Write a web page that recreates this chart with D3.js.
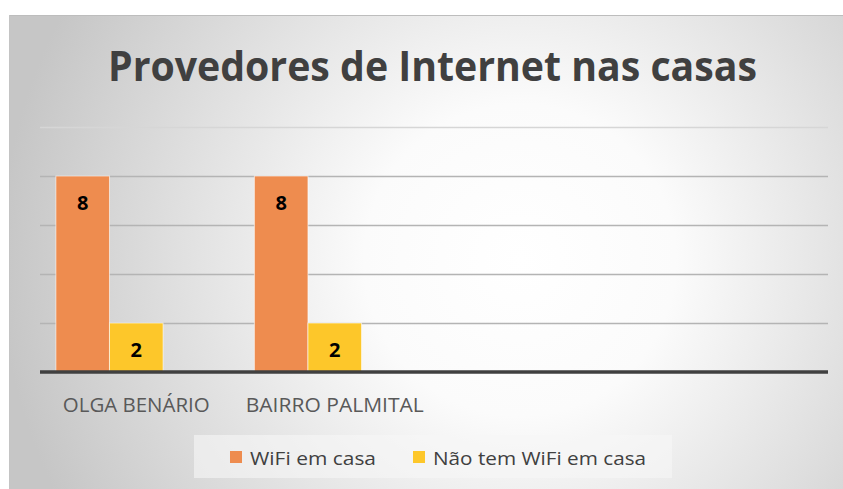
<!DOCTYPE html>
<html>
<head>
<meta charset="utf-8">
<script src="https://cdn.jsdelivr.net/npm/d3@7"></script>
<style>
  html, body { margin: 0; padding: 0; background: #fff; }
  text { font-family: "Open Sans", "DejaVu Sans", sans-serif; }
</style>
</head>
<body>
<div id="chart"></div>
<script>
// chart values
var categories = ['OLGA BENÁRIO', 'BAIRRO PALMITAL', '', ''];
var seriesNames = ['WiFi em casa', 'Não tem WiFi em casa', ''];
var wifiValues = [8, 8, null, null];
var semWifiValues = [2, 2, null, null];
var yTicks = [0, 2, 4, 6, 8, 10];
var chartTitle = 'Provedores de Internet nas casas';

var colors = ['#ee8c4f', '#fdc72a', 'none'];

var width = 843, height = 489;
var plotLeft = 40, plotRight = 828, plotTop = 127, plotBottom = 372;

var svg = d3.select('#chart').append('svg')
    .attr('width', width)
    .attr('height', height);

// background gradient
var defs = svg.append('defs');
var grad = defs.append('radialGradient')
    .attr('id', 'bg')
    .attr('gradientUnits', 'userSpaceOnUse')
    .attr('cx', 520).attr('cy', 260).attr('r', 520);
grad.append('stop').attr('offset', '0%').attr('stop-color', '#ffffff');
grad.append('stop').attr('offset', '30%').attr('stop-color', '#fbfbfb');
grad.append('stop').attr('offset', '100%').attr('stop-color', '#c6c6c6');

svg.append('rect')
    .attr('x', 9).attr('y', 15)
    .attr('width', width - 9).attr('height', height - 15)
    .attr('fill', 'url(#bg)');
svg.append('line')
    .attr('x1', 9).attr('x2', width).attr('y1', 15.5).attr('y2', 15.5)
    .attr('stroke', '#bdbdbd').attr('stroke-width', 1);
svg.append('line')
    .attr('x1', 9.5).attr('x2', 9.5).attr('y1', 15).attr('y2', height)
    .attr('stroke', '#c4c4c4').attr('stroke-width', 1);

// title
svg.append('text')
    .attr('x', 108).attr('y', 81)
    .attr('textLength', 649)
    .attr('lengthAdjust', 'spacingAndGlyphs')
    .attr('font-size', 42)
    .attr('font-weight', 'bold')
    .attr('fill', '#404040')
    .text(chartTitle);

var x0 = d3.scaleBand()
    .domain(d3.range(categories.length))
    .range([plotLeft, plotRight])
    .paddingInner(0.19)
    .paddingOuter(0.08);

var x1 = d3.scaleBand()
    .domain(d3.range(seriesNames.length))
    .range([0, x0.bandwidth()]);

var y = d3.scaleLinear()
    .domain([0, 10])
    .range([plotBottom, plotTop]);

// gridlines
var grid = svg.append('g')
    .attr('transform', 'translate(' + plotLeft + ',0)')
    .call(d3.axisLeft(y).tickValues(yTicks.slice(1)).tickSize(-(plotRight - plotLeft)).tickFormat(''));
grid.select('.domain').remove();
grid.selectAll('.tick line')
    .attr('stroke', function(d) { return d == 10 ? '#d6d6d6' : '#b4b4b4'; })
    .attr('stroke-width', 1.6);

// bars
var rows = categories.map(function(c, i) {
  return [wifiValues[i], semWifiValues[i], null];
});

function cells(d) {
  return d.map(function(v, s) { return {v: v, s: s}; })
          .filter(function(o) { return o.v != null; });
}

var groups = svg.append('g').selectAll('g')
    .data(rows)
    .enter()
    .append('g')
    .attr('transform', function(d, i) { return 'translate(' + x0(i) + ',0)'; });

groups.selectAll('rect')
    .data(cells)
    .enter()
    .append('rect')
    .attr('x', function(d) { return x1(d.s); })
    .attr('y', function(d) { return y(d.v); })
    .attr('width', x1.bandwidth())
    .attr('height', function(d) { return y(0) - y(d.v); })
    .attr('fill', function(d) { return colors[d.s]; })
    .attr('stroke', 'rgba(255,255,255,0.6)')
    .attr('stroke-width', 1);

groups.selectAll('text')
    .data(cells)
    .enter()
    .append('text')
    .attr('x', function(d) { return x1(d.s) + x1.bandwidth() / 2; })
    .attr('y', function(d) { return y(d.v) + 34; })
    .attr('text-anchor', 'middle')
    .attr('font-size', 20)
    .attr('font-weight', 'bold')
    .attr('fill', '#000')
    .text(function(d) { return d.v; });

// axis line
svg.append('line')
    .attr('x1', plotLeft).attr('x2', plotRight)
    .attr('y1', y(0)).attr('y2', y(0))
    .attr('stroke', '#404040')
    .attr('stroke-width', 3.5);

// category labels
var labelWidths = [147, 178];
svg.append('g').selectAll('text')
    .data(categories.filter(function(c) { return c !== ''; }))
    .enter()
    .append('text')
    .attr('x', function(d, i) { return x0(i) + x0.bandwidth() / 2; })
    .attr('y', 412)
    .attr('text-anchor', 'middle')
    .attr('textLength', function(d, i) { return labelWidths[i]; })
    .attr('lengthAdjust', 'spacingAndGlyphs')
    .attr('font-size', 20)
    .attr('fill', '#595959')
    .text(function(d) { return d; });

// legend
var legend = svg.append('g');
legend.append('rect')
    .attr('x', 194).attr('y', 435)
    .attr('width', 478).attr('height', 43)
    .attr('fill', '#f6f6f6')
    .attr('opacity', 0.6);

var legendItems = [
  {name: seriesNames[0], color: colors[0], x: 230, w: 126},
  {name: seriesNames[1], color: colors[1], x: 413, w: 213}
];
legendItems.forEach(function(it) {
  legend.append('rect')
      .attr('x', it.x).attr('y', 451)
      .attr('width', 12).attr('height', 12)
      .attr('fill', it.color);
  legend.append('text')
      .attr('x', it.x + 20).attr('y', 465)
      .attr('textLength', it.w)
      .attr('lengthAdjust', 'spacingAndGlyphs')
      .attr('font-size', 18)
      .attr('fill', '#404040')
      .text(it.name);
});
</script>
</body>
</html>
